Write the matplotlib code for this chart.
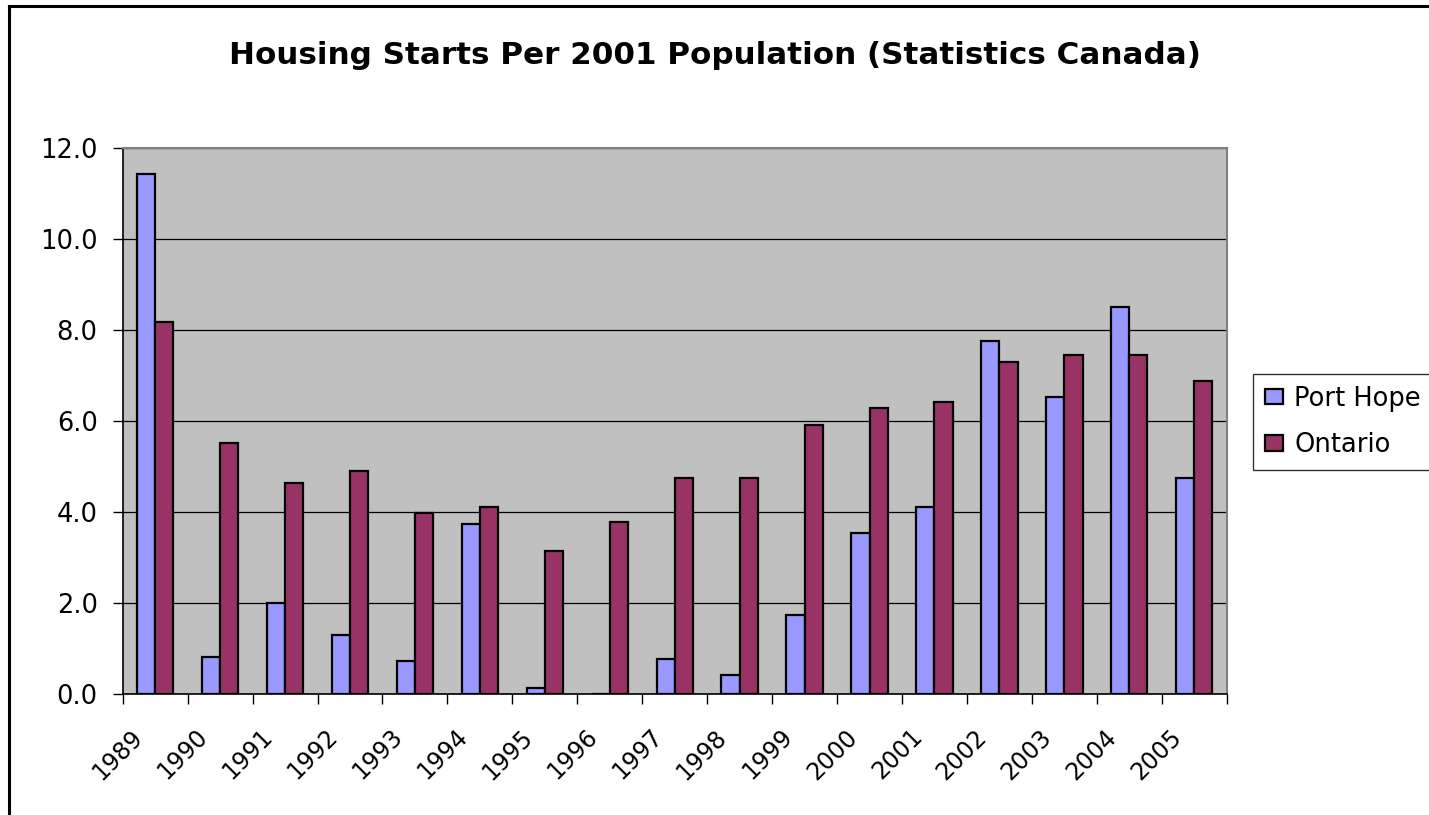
import numpy as np
import matplotlib
matplotlib.use('Agg')
import matplotlib.pyplot as plt
from matplotlib.lines import Line2D
from matplotlib.ticker import FixedLocator, NullFormatter

# reference text is wide, DejaVu Sans matches its proportions better than Arial
plt.rcParams['font.family'] = ['DejaVu Sans']

PORT_HOPE = '#9999ff'
ONTARIO = '#993366'
PLOT_BG = '#c0c0c0'

years = ['1989', '1990', '1991', '1992', '1993', '1994', '1995', '1996', '1997',
         '1998', '1999', '2000', '2001', '2002', '2003', '2004', '2005']
port_hope = [11.43, 0.81, 2.00, 1.30, 0.73, 3.74, 0.13, 0.0, 0.77,
             0.42, 1.74, 3.54, 4.11, 7.76, 6.54, 8.51, 4.75]
ontario = [8.18, 5.52, 4.64, 4.90, 3.98, 4.11, 3.14, 3.78, 4.75,
           4.75, 5.91, 6.29, 6.42, 7.31, 7.46, 7.46, 6.89]

W, H = 1429, 815
fig = plt.figure(figsize=(W / 100, H / 100), dpi=100)
ax = fig.add_axes([122.7 / W, 1 - 694.3 / H, 1104 / W, 546.3 / H])

x = np.arange(len(years))
bw = 0.28
ax.bar(x - bw / 2, port_hope, bw, color=PORT_HOPE, edgecolor='black', linewidth=1.6,
       label='Port Hope', zorder=3)
ax.bar(x + bw / 2, ontario, bw, color=ONTARIO, edgecolor='black', linewidth=1.6,
       label='Ontario', zorder=3)

ax.set_facecolor(PLOT_BG)
ax.set_xlim(-0.5, len(years) - 0.5)
ax.set_ylim(0, 12)
ax.set_yticks(np.arange(0, 12.1, 2))
ax.set_yticklabels(['%.1f' % v for v in np.arange(0, 12.1, 2)], fontsize=18.5)
ax.yaxis.grid(True, color='black', linewidth=0.9, zorder=1)
ax.set_axisbelow(True)
ax.tick_params(axis='y', direction='out', length=7, width=1, pad=11)

# category boundaries as major ticks, labels offset as minor ticks
ax.xaxis.set_major_locator(FixedLocator(np.arange(len(years) + 1) - 0.5))
ax.xaxis.set_major_formatter(NullFormatter())
ax.xaxis.set_minor_locator(FixedLocator(x - 0.25))
ax.set_xticklabels(years, minor=True, fontsize=17, rotation=45, ha='right',
                   va='center', rotation_mode='anchor')
ax.tick_params(axis='x', which='major', direction='out', length=7, width=1)
ax.tick_params(axis='x', which='minor', length=0, pad=28)

for s in ['top', 'right']:
    ax.spines[s].set_color('#808080')
    ax.spines[s].set_linewidth(1.5)
for s in ['left', 'bottom']:
    ax.spines[s].set_color('black')
    ax.spines[s].set_linewidth(1.2)

fig.text(0.5, 1 - 56 / H, 'Housing Starts Per 2001 Population (Statistics Canada)',
         ha='center', va='center', fontsize=22.3, fontweight='bold')

leg = ax.legend(loc='upper left', bbox_to_anchor=(1253 / W, 1 - 374 / H),
                bbox_transform=fig.transFigure, fontsize=18.5, frameon=True,
                fancybox=False, edgecolor='black', borderpad=0.45,
                handlelength=0.7, handleheight=0.55, handletextpad=0.45,
                labelspacing=0.8, borderaxespad=0)
leg.get_frame().set_linewidth(1.0)

# outer chart frame (left and top edges visible)
fig.add_artist(Line2D([9 / W, 9 / W], [0, 1 - 6 / H], color='black', linewidth=2.2,
                      transform=fig.transFigure))
fig.add_artist(Line2D([9 / W, 1], [1 - 6 / H, 1 - 6 / H], color='black', linewidth=2.2,
                      transform=fig.transFigure))

fig.savefig('out.png', dpi=100)
